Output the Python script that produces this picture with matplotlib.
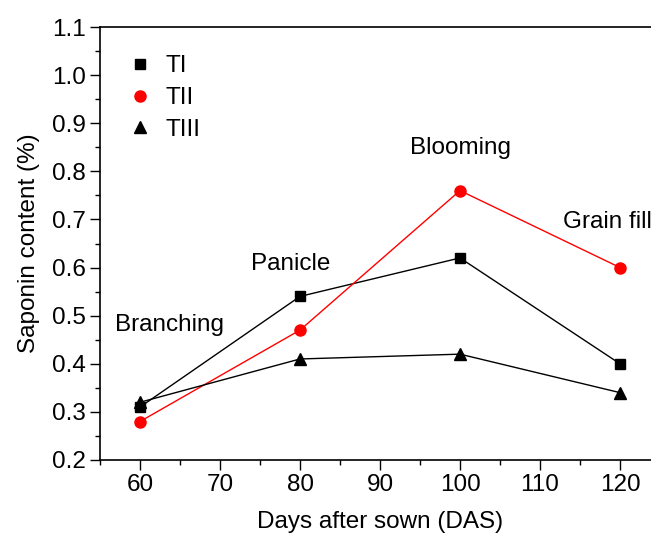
import matplotlib
matplotlib.use('Agg')
import matplotlib.pyplot as plt
from matplotlib.lines import Line2D
from matplotlib.ticker import MultipleLocator, FormatStrFormatter

plt.rcParams['font.family'] = ['Liberation Sans', 'DejaVu Sans']

days = [60, 80, 100, 120]
ti = [0.31, 0.54, 0.62, 0.40]
tii = [0.28, 0.47, 0.76, 0.60]
tiii = [0.32, 0.41, 0.42, 0.34]
stages = ['Branching', 'Panicle', 'Blooming', 'Grain fill']
stage_pos = [(63.7, 0.48), (78.8, 0.607), (100.1, 0.849), (118.4, 0.695)]

fs = 17.5
fig = plt.figure(figsize=(6.51, 5.33), dpi=100)
ax = fig.add_axes([100/651, 1 - 460/533, 560/651, 433/533])

ax.plot(days, ti, color='black', lw=1, marker='s', ms=7.5)
ax.plot(days, tii, color='red', lw=1, marker='o', ms=8)
ax.plot(days, tiii, color='black', lw=1, marker='^', ms=8.5)

for name, (x, y) in zip(stages, stage_pos):
    ax.text(x, y, name, fontsize=fs, ha='center', va='center')

ax.set_xlim(55, 125)
ax.set_ylim(0.2, 1.1)
ax.xaxis.set_major_locator(MultipleLocator(10))
ax.xaxis.set_minor_locator(MultipleLocator(5))
ax.yaxis.set_major_locator(MultipleLocator(0.1))
ax.yaxis.set_minor_locator(MultipleLocator(0.05))
ax.yaxis.set_major_formatter(FormatStrFormatter('%.1f'))
ax.tick_params(which='major', direction='out', length=7, width=1, labelsize=fs, pad=3)
ax.tick_params(which='minor', direction='out', length=3.5, width=1)
ax.tick_params(top=False, right=False, which='both')
for s in ax.spines.values():
    s.set_linewidth(1.2)

ax.set_xlabel('Days after sown (DAS)', fontsize=fs, labelpad=11)
ax.set_ylabel('Saponin content (%)', fontsize=fs, labelpad=9)

handles = [Line2D([], [], color='black', marker='s', ls='none', ms=7.5),
           Line2D([], [], color='red', marker='o', ls='none', ms=8),
           Line2D([], [], color='black', marker='^', ls='none', ms=8.5)]
ax.legend(handles, ['TI', 'TII', 'TIII'], loc='upper left', bbox_to_anchor=(0.01, 0.985),
          frameon=False, fontsize=fs, handlelength=1.0, handletextpad=0.55, labelspacing=0.4)

plt.savefig('out.png', dpi=100)
plt.close()
